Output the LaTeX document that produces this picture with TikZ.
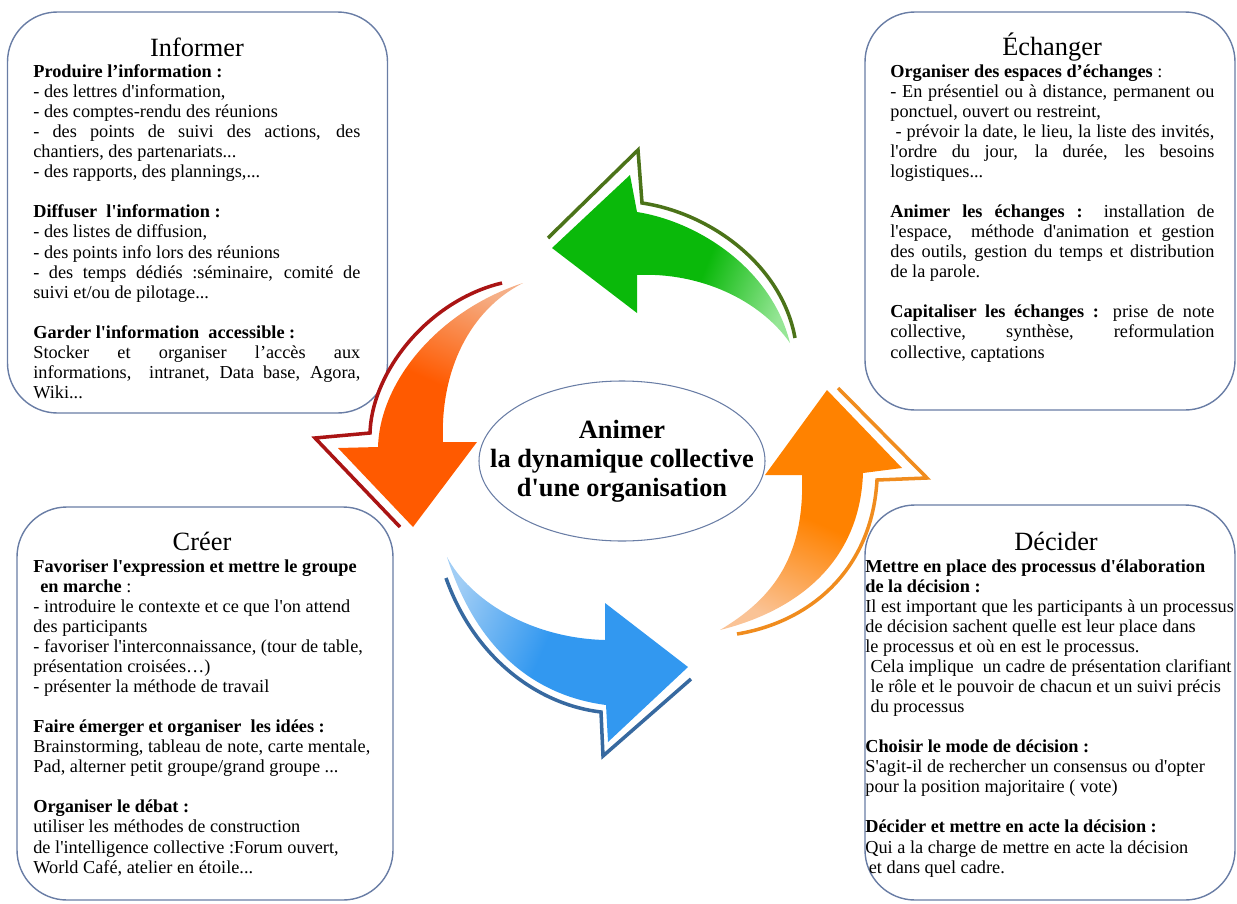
\documentclass[tikz,border=0pt]{standalone}
\usepackage{fontspec}
\setmainfont{Liberation Serif}[Ligatures=TeXOff]
\usetikzlibrary{shapes.geometric}
\setlength{\parindent}{0pt}
\definecolor{bord}{RGB}{105,125,165}
\definecolor{vertplein}{RGB}{10,185,10}
\definecolor{vertpale}{RGB}{150,230,150}
\definecolor{vertfil}{RGB}{75,115,25}
\definecolor{rougeplein}{RGB}{255,90,0}
\definecolor{rougepale}{RGB}{245,175,135}
\definecolor{rougefil}{RGB}{170,20,20}
\definecolor{bleuplein}{RGB}{50,152,240}
\definecolor{bleupale}{RGB}{160,205,245}
\definecolor{bleufil}{RGB}{55,105,160}
\definecolor{orangeplein}{RGB}{255,130,0}
\definecolor{orangepale}{RGB}{250,195,150}
\definecolor{orangefil}{RGB}{240,140,30}
\pgfdeclarehorizontalshading{fonduvert}{100bp}{color(0bp)=(vertplein); color(58bp)=(vertplein); color(78bp)=(vertpale); color(100bp)=(vertpale)}
\pgfdeclarehorizontalshading{fondurouge}{100bp}{color(0bp)=(rougeplein); color(55bp)=(rougeplein); color(78bp)=(rougepale); color(100bp)=(rougepale)}
\pgfdeclarehorizontalshading{fondubleu}{100bp}{color(0bp)=(bleuplein); color(55bp)=(bleuplein); color(78bp)=(bleupale); color(100bp)=(bleupale)}
\pgfdeclarehorizontalshading{fonduorange}{100bp}{color(0bp)=(orangeplein); color(52bp)=(orangeplein); color(76bp)=(orangepale); color(100bp)=(orangepale)}
\begin{document}
\begin{tikzpicture}[x=0.2mm,y=-0.2mm,
    cadre/.style={rectangle,draw=bord,line width=0.8pt,rounded corners=1cm},
    noyau/.style={ellipse,draw=bord,line width=0.6pt,minimum width=5.72cm,minimum height=3.2cm},
    titre/.style={anchor=base,inner sep=0,font=\fontsize{15}{18}\selectfont},
    texte/.style={anchor=north west,inner sep=0,font=\fontsize{10.4}{11.4}\selectfont},
    centre/.style={align=center,inner sep=0,font=\bfseries\fontsize{15}{16.5}\selectfont},
    fil/.style={line width=2pt}]
  \useasboundingbox (0,0) rectangle (1237,903);

  \node[cadre,minimum width=7.6cm,minimum height=8.02cm] (informer) at (197.5,212.5) {};
  \node[cadre,minimum width=7.4cm,minimum height=7.96cm] (echanger) at (1050,211)    {};
  \node[cadre,minimum width=7.52cm,minimum height=7.86cm] (creer)   at (205,703.5)   {};
  \node[cadre,minimum width=7.4cm,minimum height=7.9cm]  (decider)  at (1050,702.5)  {};

  \node[titre] (t-informer) at (197,56)  {Informer};
  \node[titre] (t-echanger) at (1052,55) {Échanger};
  \node[titre] (t-creer)    at (202,550) {Créer};
  \node[titre] (t-decider)  at (1056,550) {Décider};

  \node[texte,text width=6.54cm,align=justify] (x-informer) at (33,64.5) {%
\textbf{Produire l’information :}\\
- des lettres d'information,\\
- des comptes-rendu des réunions\\
- des points de suivi des actions, des\linebreak
chantiers, des partenariats...\\
- des rapports, des plannings,...\\[11.4pt]
\textbf{Diffuser\ \ l'information :}\\
- des listes de diffusion,\\
- des points info lors des réunions\\
- des temps dédiés :séminaire, comité de\linebreak
suivi et/ou de pilotage...\\[11.4pt]
\textbf{Garder l'information\ \ accessible :}\\
Stocker et organiser l’accès aux\linebreak
informations,\ \ intranet, Data base, Agora,\linebreak
Wiki...};

  \node[texte,text width=6.48cm,align=justify] (x-echanger) at (890,64.5) {%
\textbf{Organiser des espaces d’échanges} :\\
- En présentiel ou à distance, permanent ou\linebreak
ponctuel, ouvert ou restreint,\\
\hspace*{3pt}- prévoir la date, le lieu, la liste des invités,\linebreak
l'ordre du jour, la durée, les besoins\linebreak
logistiques...\\[11.4pt]
\textbf{Animer les échanges :} installation de\linebreak
l'espace,\ \ méthode d'animation et gestion\linebreak
des outils, gestion du temps et distribution\linebreak
de la parole.\\[11.4pt]
\textbf{Capitaliser les échanges :} prise de note\linebreak
collective, synthèse, reformulation\linebreak
collective, captations};

  \node[texte,text width=6.9cm,align=justify] (x-creer) at (33,559.5) {%
\textbf{Favoriser l'expression et mettre le groupe}\\
\hspace*{4pt}\textbf{en marche} :\\
- introduire le contexte et ce que l'on attend\\
des participants\\
- favoriser l'interconnaissance, (tour de table,\\
présentation croisées…)\\
- présenter la méthode de travail\\[11.4pt]
\textbf{Faire émerger et organiser\ \ les idées :}\\
Brainstorming, tableau de note, carte mentale,\\
Pad, alterner petit groupe/grand groupe ...\\[11.4pt]
\textbf{Organiser le débat :}\\
utiliser les méthodes de construction\\
de l'intelligence collective :Forum ouvert,\\
World Café, atelier en étoile...};

  \node[texte,text width=7.6cm,align=justify] (x-decider) at (865,559.5) {%
\textbf{Mettre en place des processus d'élaboration}\\
\textbf{de la décision :}\\
Il est important que les participants à un processus\\
de décision sachent quelle est leur place dans\\
le processus et où en est le processus.\\
\hspace*{3pt}Cela implique\ \ un cadre de présentation clarifiant\\
\hspace*{3pt}le rôle et le pouvoir de chacun et un suivi précis\\
\hspace*{3pt}du processus\\[11.4pt]
\textbf{Choisir le mode de décision :}\\
S'agit-il de rechercher un consensus ou d'opter\\
pour la position majoritaire ( vote)\\[11.4pt]
\textbf{Décider et mettre en acte la décision :}\\
Qui a la charge de mettre en acte la décision\\
\hspace*{2pt}et dans quel cadre.};

  \node[noyau] (noyau) at (622,461) {};
  \node[centre] (animer) at (noyau) {Animer\\la dynamique collective\\d'une organisation};

  % fleche verte
  \shade[shading=fonduvert,shading angle=-22]
    (637,212) .. controls (700,222) and (772,270) .. (790,343)
    .. controls (760,300) and (700,272) .. (637,275) -- (637,313) -- (552,248) -- (630,175) -- cycle;
  \draw[fil,draw=vertfil] (548,238) -- (638,150) -- (642,203) .. controls (710,213) and (782,265) .. (795,338);

  % fleche rouge
  \shade[shading=fondurouge,shading angle=66]
    (523,283) .. controls (440,310) and (380,380) .. (378,447) -- (338,448) -- (413,527) -- (477,442)
    -- (443,442) .. controls (440,370) and (470,310) .. (523,283) -- cycle;
  \draw[fil,draw=rougefil] (502,283) .. controls (430,300) and (372,370) .. (370,433) -- (315,438) -- (400,527);

  % fleche bleue
  \shade[shading=fondubleu,shading angle=156]
    (447,557) .. controls (470,600) and (530,638) .. (605,640) -- (605,603) -- (688,667) -- (608,742)
    -- (606,705) .. controls (530,695) and (475,645) .. (447,557) -- cycle;
  \draw[fil,draw=bleufil] (446,578) .. controls (475,660) and (540,705) .. (601,712) -- (603,756) -- (691,679);

  % fleche orange
  \shade[shading=fonduorange,shading angle=-114]
    (720,630) .. controls (770,600) and (805,560) .. (802,475) -- (765,475) -- (827,390) -- (902,468)
    -- (863,473) .. controls (860,560) and (800,610) .. (720,630) -- cycle;
  \draw[fil,draw=orangefil] (838,388) -- (927,478) -- (877,480) .. controls (872,570) and (810,622) .. (737,634);
\end{tikzpicture}
\end{document}
